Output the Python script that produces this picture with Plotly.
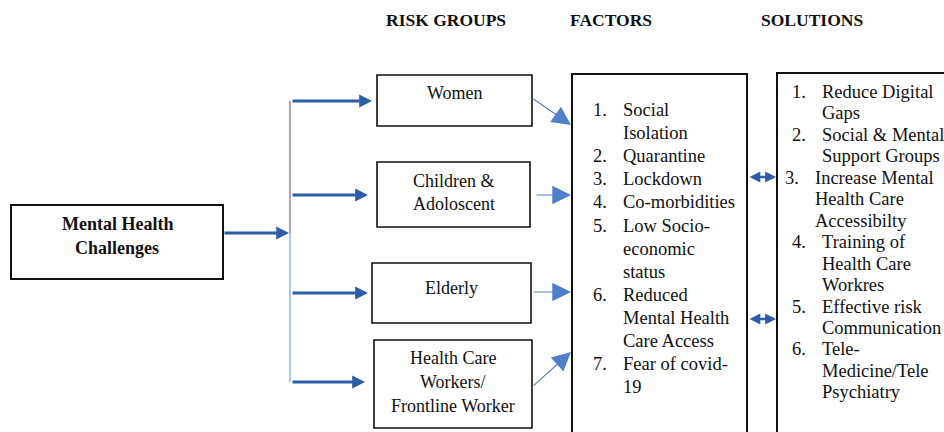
import plotly.graph_objects as go

# ---- content ----
headers = ["RISK GROUPS", "FACTORS", "SOLUTIONS"]
root_label = ["Mental Health", "Challenges"]
risk_groups = [["Women"], ["Children &", "Adoloscent"], ["Elderly"],
               ["Health Care", "Workers/", "Frontline Worker"]]
factors = [["Social", "Isolation"], ["Quarantine"], ["Lockdown"], ["Co-morbidities"],
           ["Low Socio-", "economic", "status"], ["Reduced", "Mental Health", "Care Access"],
           ["Fear of covid-", "19"]]
solutions = [["Reduce Digital", "Gaps"], ["Social & Mental", "Support Groups"],
             ["Increase Mental", "Health Care", "Accessibilty"],
             ["Training of", "Health Care", "Workres"],
             ["Effective risk", "Communication"],
             ["Tele-", "Medicine/Tele", "Psychiatry"]]

# ---- layout geometry (page pixel space) ----
header_x = [446, 611, 812]
header_y = 20
root_box = (11, 205, 223, 279)
rg_boxes = [(377, 75, 532, 126), (377, 162, 530, 227), (372, 263, 531, 323), (374, 340, 532, 428)]
rg_line_y = [[93], [181, 204], [288], [358, 382, 406]]
branch_y = [101, 195, 293, 382]
branch_x0 = 291
branch_x1 = [372, 368, 368, 365]
thin_arrows = [((532, 98), (571, 125)), ((535, 195), (571, 195)),
               ((532, 292), (571, 292)), ((532, 387), (571, 352))]
factor_box = (572, 74, 747, 445)
sol_box = (777, 73, 955, 445)
f_num_x, f_txt_x, f_y0, f_dy = 591, 621, 110, 23.1
s_num_x, s_txt_x, s_y0, s_dy = 790, 820, 92, 21.45
double_y = [177, 319]

FONT = "Liberation Serif, Times New Roman, serif"
THICK = "#2f5ca6"
THIN = "#5080cc"

fig = go.Figure()
shapes = []
ann = []

def box(b, w=1.6):
    shapes.append(dict(type="rect", xref="x", yref="y", x0=b[0], y0=b[1], x1=b[2], y1=b[3],
                       line=dict(color="#111111", width=w), fillcolor="rgba(0,0,0,0)"))

def text(x, y, t, size=18.5, bold=False, anchor="center"):
    ann.append(dict(x=x, y=y, xref="x", yref="y", text=f"<b>{t}</b>" if bold else t,
                    showarrow=False, xanchor=anchor, yanchor="middle",
                    font=dict(family=FONT, size=size, color="#111111")))

def arrow(p0, p1, color, width, head=2, size=1.0, side="end"):
    ann.append(dict(x=p1[0], y=p1[1], ax=p0[0], ay=p0[1], xref="x", yref="y",
                    axref="x", ayref="y", showarrow=True, arrowhead=head, arrowsize=size,
                    arrowwidth=width, arrowcolor=color, arrowside=side, text="",
                    startarrowhead=head, startarrowsize=size))

# headers
for h, x in zip(headers, header_x):
    text(x, header_y, h, size=17.5, bold=True)

# root
box(root_box, 2)
cx = (root_box[0] + root_box[2]) / 2
text(cx, 224, root_label[0], size=18, bold=True)
text(cx, 248, root_label[1], size=18, bold=True)
arrow((223, 233), (289, 233), THICK, 3.2, head=2, size=0.8)

# vertical connector
shapes.append(dict(type="line", xref="x", yref="y", x0=branch_x0 - 1, y0=branch_y[0], x1=branch_x0 - 1, y1=233,
                   line=dict(color="#6b7280", width=1.2)))
shapes.append(dict(type="line", xref="x", yref="y", x0=branch_x0 - 1, y0=233, x1=branch_x0 - 1, y1=branch_y[-1],
                   line=dict(color="#7f9fde", width=1.2)))
for y, x1 in zip(branch_y, branch_x1):
    arrow((branch_x0, y), (x1, y), THICK, 3.2, head=2, size=0.8)

# risk group boxes
for b, lines, ys in zip(rg_boxes, risk_groups, rg_line_y):
    box(b, 1.6)
    for t, y in zip(lines, ys):
        text((b[0] + b[2]) / 2, y, t, size=18)

for p0, p1 in thin_arrows:
    arrow(p0, p1, THIN, 1.1, head=2, size=3.4)

# factors
box(factor_box, 2)
row = 0
for i, lines in enumerate(factors):
    text(f_num_x, f_y0 + row * f_dy, f"{i+1}.", anchor="left")
    for t in lines:
        text(f_txt_x, f_y0 + row * f_dy, t, anchor="left")
        row += 1

# solutions
box(sol_box, 2)
row = 0
for i, lines in enumerate(solutions):
    nx, tx = (s_num_x, s_txt_x) if i != 2 else (s_num_x - 7, s_txt_x - 7)
    text(nx, s_y0 + row * s_dy, f"{i+1}.", anchor="left")
    for t in lines:
        text(tx, s_y0 + row * s_dy, t, anchor="left")
        row += 1

for y in double_y:
    arrow((748, y), (776, y), THICK, 2.4, head=2, size=0.9, side="end+start")

fig.update_layout(
    width=944, height=432, margin=dict(l=0, r=0, t=0, b=0),
    paper_bgcolor="white", plot_bgcolor="white",
    xaxis=dict(range=[0, 944], visible=False, fixedrange=True),
    yaxis=dict(range=[432, 0], visible=False, fixedrange=True),
    shapes=shapes, annotations=ann, showlegend=False,
)
fig.write_html(
    "out.html",
    config={"displayModeBar": False, "staticPlot": True},
    post_script="document.body.style.margin='0';document.body.style.overflow='hidden';",
)
